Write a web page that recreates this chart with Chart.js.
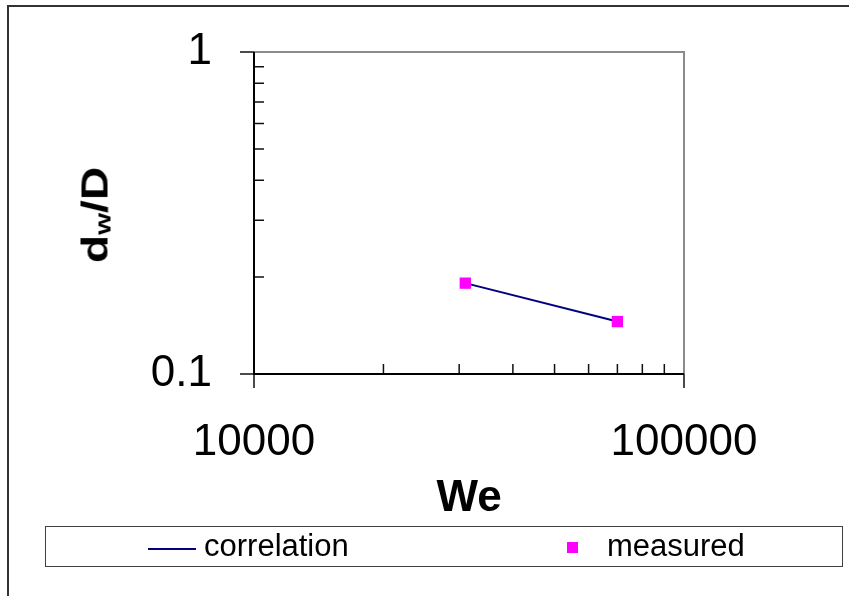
<!DOCTYPE html>
<html>
<head>
<meta charset="utf-8">
<script src="https://cdn.jsdelivr.net/npm/chart.js@4.4.1/dist/chart.umd.min.js"></script>
<style>
  body { margin: 0; background: #fff; }
  #wrap { position: relative; width: 849px; height: 596px; overflow: hidden; font-family: 'Liberation Sans', Arial, sans-serif; }
  #frame { position: absolute; left: 7px; top: 5px; width: 900px; height: 700px; border-left: 2px solid #333; border-top: 2px solid #333; }
  #chart { position: absolute; left: 0; top: 0; }
  #yTitle { position: absolute; left: 96px; top: 215px; transform: translate(-50%, -50%) rotate(-90deg) scaleX(1.28); font-weight: bold; font-size: 36px; line-height: 1; white-space: nowrap; color: #000; }
  #yTitle sub { font-size: 22px; vertical-align: -3px; line-height: 1; }
  #legend { position: absolute; left: 45px; top: 526px; width: 798px; height: 41px; box-sizing: border-box; border: 1.5px solid #404040; font-size: 31px; color: #000; }
  #legend .item { position: absolute; top: 0; height: 38px; line-height: 38px; white-space: nowrap; }
  #legend .swatch { position: absolute; }
</style>
</head>
<body>
<div id="wrap">
  <div id="frame"></div>
  <canvas id="chart" width="849" height="596"></canvas>
  <div id="yTitle">d<sub>w</sub>/D</div>
  <div id="legend"></div>
</div>
<script>
// series
const seriesNames = ['correlation', 'measured'];
const weCorrelation = [31000, 70000];
const dwCorrelation = [0.1915, 0.1455];
const weMeasured = [31000, 70000];
const dwMeasured = [0.1915, 0.1455];

// tick values
const xMajorTicks = [10000, 100000];
const xMinorTicks = [20000, 30000, 40000, 50000, 60000, 70000, 80000, 90000];
const yMajorTicks = [0.1, 1];
const yMinorTicks = [0.2, 0.3, 0.4, 0.5, 0.6, 0.7, 0.8, 0.9];

const lineColor = '#000080';
const markerColor = '#ff00ff';

Chart.defaults.font.family = "'Liberation Sans', Arial, sans-serif";
Chart.defaults.color = '#000';

// axes, excel-style ticks (major outside, minor inside) and grey frame
const axesPlugin = {
    id: 'axes',
    afterDraw(chart) {
        const { ctx, chartArea: a, scales: { x, y } } = chart;
        ctx.save();
        ctx.strokeStyle = '#8c8c8c';
        ctx.lineWidth = 2;
        ctx.beginPath();
        ctx.moveTo(a.left, a.top);
        ctx.lineTo(a.right, a.top);
        ctx.lineTo(a.right, a.bottom);
        ctx.stroke();

        ctx.strokeStyle = '#111';
        ctx.lineWidth = 1.5;
        ctx.beginPath();
        yMajorTicks.forEach(v => { const p = y.getPixelForValue(v); ctx.moveTo(a.left - 14, p); ctx.lineTo(a.left, p); });
        yMinorTicks.forEach(v => { const p = y.getPixelForValue(v); ctx.moveTo(a.left, p); ctx.lineTo(a.left + 10, p); });
        xMajorTicks.forEach(v => { const p = x.getPixelForValue(v); ctx.moveTo(p, a.bottom); ctx.lineTo(p, a.bottom + 14); });
        xMinorTicks.forEach(v => { const p = x.getPixelForValue(v); ctx.moveTo(p, a.bottom); ctx.lineTo(p, a.bottom - 10); });
        ctx.stroke();

        ctx.strokeStyle = '#000';
        ctx.lineWidth = 2;
        ctx.beginPath();
        ctx.moveTo(a.left, a.top);
        ctx.lineTo(a.left, a.bottom);
        ctx.lineTo(a.right, a.bottom);
        ctx.stroke();
        ctx.restore();
    }
};

const chart = new Chart(document.getElementById('chart').getContext('2d'), {
    type: 'line',
    data: {
        datasets: [
            {
                label: seriesNames[0],
                data: weCorrelation.map((v, i) => ({ x: v, y: dwCorrelation[i] })),
                borderColor: lineColor,
                borderWidth: 2,
                pointRadius: 0,
                fill: false,
                tension: 0,
                order: 1
            },
            {
                label: seriesNames[1],
                data: weMeasured.map((v, i) => ({ x: v, y: dwMeasured[i] })),
                showLine: false,
                pointStyle: 'rect',
                pointRadius: 8,
                pointBorderWidth: 0,
                pointBackgroundColor: markerColor,
                pointBorderColor: markerColor,
                order: 0
            }
        ]
    },
    options: {
        responsive: false,
        animation: false,
        layout: { padding: { top: 52, right: 165, left: 0, bottom: 0 } },
        plugins: { legend: { display: false }, tooltip: { enabled: false } },
        scales: {
            x: {
                type: 'logarithmic', min: 10000, max: 100000,
                afterBuildTicks: s => { s.ticks = xMajorTicks.map(v => ({ value: v })); },
                afterFit: s => { s.height = 222; s.paddingLeft = 0; s.paddingRight = 0; },
                grid: { display: false, drawTicks: false },
                border: { display: false },
                ticks: { autoSkip: false, maxRotation: 0, padding: 42, color: '#000', font: { size: 44 }, callback: v => String(v) },
                title: { display: true, text: 'We', color: '#000', font: { size: 44, weight: 'bold' }, padding: { top: 0, bottom: 71 } }
            },
            y: {
                type: 'logarithmic', min: 0.1, max: 1,
                afterBuildTicks: s => { s.ticks = yMajorTicks.map(v => ({ value: v })); },
                afterFit: s => { s.width = 254; s.paddingTop = 0; s.paddingBottom = 0; },
                grid: { display: false, drawTicks: false },
                border: { display: false },
                ticks: { autoSkip: false, padding: 42, color: '#000', font: { size: 44 }, callback: v => String(v) }
            }
        }
    },
    plugins: [axesPlugin]
});

// legend spread across the box, like the original
const legend = document.getElementById('legend');
const legendLeft = [102, 521];
chart.data.datasets.forEach((ds, i) => {
    const sw = document.createElement('div');
    sw.className = 'swatch';
    if (ds.showLine === false) {
        Object.assign(sw.style, { left: legendLeft[i] + 'px', top: '15px', width: '11px', height: '11px', background: ds.pointBackgroundColor });
    } else {
        Object.assign(sw.style, { left: legendLeft[i] + 'px', top: '21px', width: '48px', height: '2px', background: ds.borderColor });
    }
    legend.appendChild(sw);
    const txt = document.createElement('div');
    txt.className = 'item';
    txt.style.left = (legendLeft[i] + (ds.showLine === false ? 40 : 56)) + 'px';
    txt.textContent = ds.label;
    legend.appendChild(txt);
});
</script>
</body>
</html>
